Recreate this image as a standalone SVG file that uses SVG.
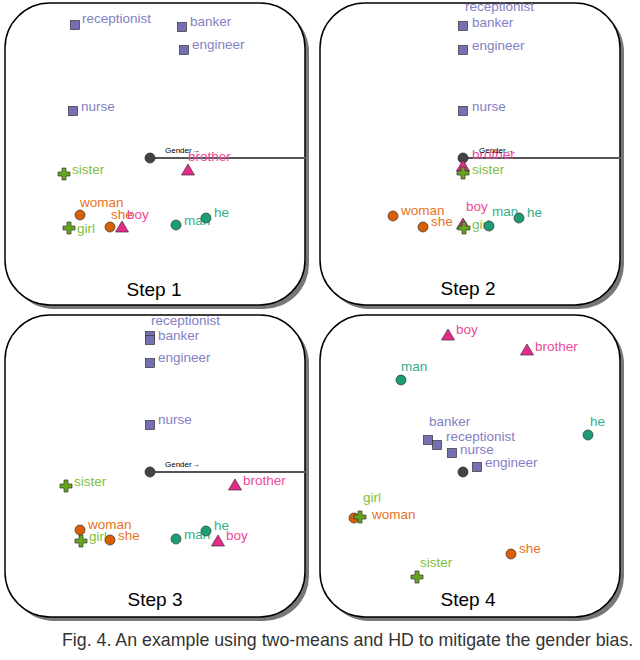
<svg xmlns="http://www.w3.org/2000/svg" xmlns:xlink="http://www.w3.org/1999/xlink" width="640" height="660" viewBox="0 0 640 660">
<style>
text{font-family:"Liberation Sans",Arial,sans-serif;font-size:13.5px}
.frame{fill:#fff;stroke:#000;stroke-width:1.5}
.shadow{fill:#777}
.axis{stroke:#555;stroke-width:2}
.p{fill:#8480c4}.k{fill:#ec4a9a}.g{fill:#7fbf3f}.o{fill:#e8731e}.t{fill:#33b08a}
.step{font-size:19px;fill:#000}
.gen{font-size:8px;fill:#000}
</style>
<defs>
<rect id="sq" x="-4.5" y="-4.5" width="9" height="9" fill="#7570b3" stroke="#333" stroke-width="0.7"/>
<circle id="ci" r="5" stroke="#333" stroke-width="0.7"/>
<circle id="org" r="5" fill="#444" stroke="#222" stroke-width="0.7"/>
<path id="pl" d="M-2,-6h4v4h4v4h-4v4h-4v-4h-4v-4h4z" fill="#66a61e" stroke="#333" stroke-width="0.7"/>
<path id="tr" d="M0,-6L6.5,5H-6.5Z" fill="#e7298a" stroke="#333" stroke-width="0.7"/>
</defs>
<g id="frames">
<rect class="shadow" x="9" y="7" width="300" height="302" rx="45"/>
<rect class="frame" x="5" y="3" width="300" height="302" rx="45"/>
<rect class="shadow" x="324" y="7" width="300" height="302" rx="45"/>
<rect class="frame" x="320" y="3" width="300" height="302" rx="45"/>
<rect class="shadow" x="9" y="319" width="300" height="302" rx="45"/>
<rect class="frame" x="5" y="315" width="300" height="302" rx="45"/>
<rect class="shadow" x="324" y="319" width="300" height="302" rx="45"/>
<rect class="frame" x="320" y="315" width="300" height="302" rx="45"/>
</g>
<g id="connectors">
<line class="axis" x1="150" y1="158" x2="306" y2="158"/>
<line class="axis" x1="463" y1="158" x2="621" y2="158"/>
<line class="axis" x1="150" y1="472" x2="306" y2="472"/>
</g>
<g id="step1">
<use xlink:href="#sq" x="75" y="25"/><text class="p" x="82" y="23">receptionist</text>
<use xlink:href="#sq" x="182" y="27"/><text class="p" x="190" y="26">banker</text>
<use xlink:href="#sq" x="184" y="50"/><text class="p" x="192" y="49">engineer</text>
<use xlink:href="#sq" x="73" y="111"/><text class="p" x="81" y="111">nurse</text>
<use xlink:href="#org" x="150" y="158"/><text class="gen" x="165" y="153">Gender→</text>
<use xlink:href="#tr" x="188" y="170"/><text class="k" x="188" y="161">brother</text>
<use xlink:href="#pl" x="64" y="174"/><text class="g" x="72" y="174">sister</text>
<use xlink:href="#ci" x="80" y="215" fill="#d95f02"/><text class="o" x="80" y="207">woman</text>
<use xlink:href="#pl" x="69" y="228"/><text class="g" x="77" y="233">girl</text>
<use xlink:href="#ci" x="110" y="227" fill="#d95f02"/><text class="o" x="111" y="219">she</text>
<use xlink:href="#tr" x="122" y="227"/><text class="k" x="127" y="219">boy</text>
<use xlink:href="#ci" x="176" y="225" fill="#1b9e77"/><text class="t" x="184" y="225">man</text>
<use xlink:href="#ci" x="206" y="218" fill="#1b9e77"/><text class="t" x="214" y="217">he</text>
<text class="step" x="154" y="296" text-anchor="middle">Step 1</text>
</g>
<g id="step2">
<text class="p" x="465" y="11">receptionist</text>
<use xlink:href="#sq" x="463" y="26"/><text class="p" x="472" y="27">banker</text>
<use xlink:href="#sq" x="463" y="50"/><text class="p" x="472" y="50">engineer</text>
<use xlink:href="#sq" x="463" y="111"/><text class="p" x="472" y="111">nurse</text>
<text class="k" x="472" y="159">brother</text>
<use xlink:href="#org" x="463" y="158"/><text class="gen" x="479" y="153">Gender→</text>
<use xlink:href="#tr" x="463" y="166"/>
<use xlink:href="#pl" x="463" y="173"/><text class="g" x="472" y="174">sister</text>
<use xlink:href="#ci" x="393" y="216" fill="#d95f02"/><text class="o" x="401" y="215">woman</text>
<use xlink:href="#ci" x="423" y="227" fill="#d95f02"/><text class="o" x="431" y="226">she</text>
<text class="k" x="466" y="211">boy</text>
<use xlink:href="#tr" x="463" y="224"/>
<use xlink:href="#pl" x="464" y="228"/><text class="g" x="472" y="229">girl</text>
<use xlink:href="#ci" x="489" y="226" fill="#1b9e77"/><text class="t" x="492" y="216">man</text>
<use xlink:href="#ci" x="519" y="218" fill="#1b9e77"/><text class="t" x="527" y="217">he</text>
<text class="step" x="468" y="295" text-anchor="middle">Step 2</text>
</g>
<g id="step3">
<text class="p" x="151" y="325">receptionist</text>
<use xlink:href="#sq" x="150" y="336"/>
<use xlink:href="#sq" x="150" y="340"/><text class="p" x="158" y="340">banker</text>
<use xlink:href="#sq" x="150" y="363"/><text class="p" x="158" y="362">engineer</text>
<use xlink:href="#sq" x="150" y="425"/><text class="p" x="158" y="424">nurse</text>
<use xlink:href="#org" x="150" y="472"/><text class="gen" x="165" y="467">Gender→</text>
<use xlink:href="#tr" x="235" y="485"/><text class="k" x="243" y="485">brother</text>
<use xlink:href="#pl" x="66" y="486"/><text class="g" x="74" y="486">sister</text>
<use xlink:href="#ci" x="80" y="530" fill="#d95f02"/><text class="o" x="88" y="529">woman</text>
<use xlink:href="#pl" x="81" y="541"/><text class="g" x="89" y="541">girl</text>
<use xlink:href="#ci" x="110" y="540" fill="#d95f02"/><text class="o" x="118" y="540">she</text>
<use xlink:href="#ci" x="176" y="539" fill="#1b9e77"/><text class="t" x="184" y="539">man</text>
<use xlink:href="#ci" x="206" y="531" fill="#1b9e77"/><text class="t" x="214" y="530">he</text>
<use xlink:href="#tr" x="218" y="541"/><text class="k" x="226" y="540">boy</text>
<text class="step" x="155" y="606" text-anchor="middle">Step 3</text>
</g>
<g id="step4">
<use xlink:href="#tr" x="448" y="335"/><text class="k" x="456" y="334">boy</text>
<use xlink:href="#tr" x="527" y="350"/><text class="k" x="535" y="351">brother</text>
<text class="t" x="401" y="371">man</text><use xlink:href="#ci" x="401" y="380" fill="#1b9e77"/>
<text class="t" x="590" y="426">he</text><use xlink:href="#ci" x="588" y="435" fill="#1b9e77"/>
<text class="p" x="429" y="426">banker</text>
<use xlink:href="#sq" x="428" y="440"/><use xlink:href="#sq" x="437" y="445"/>
<text class="p" x="446" y="441">receptionist</text>
<use xlink:href="#sq" x="452" y="453"/><text class="p" x="460" y="454">nurse</text>
<use xlink:href="#org" x="463" y="472"/>
<use xlink:href="#sq" x="477" y="467"/><text class="p" x="485" y="467">engineer</text>
<text class="g" x="363" y="502">girl</text>
<use xlink:href="#ci" x="354" y="518" fill="#d95f02"/><use xlink:href="#pl" x="360" y="517"/>
<text class="o" x="372" y="519">woman</text>
<use xlink:href="#ci" x="511" y="554" fill="#d95f02"/><text class="o" x="519" y="553">she</text>
<text class="g" x="420" y="567">sister</text><use xlink:href="#pl" x="417" y="577"/>
<text class="step" x="468" y="606" text-anchor="middle">Step 4</text>
</g>
<text x="62" y="646" style="font-size:17.8px;fill:#333">Fig. 4. An example using two-means and HD to mitigate the gender bias.</text>
</svg>
